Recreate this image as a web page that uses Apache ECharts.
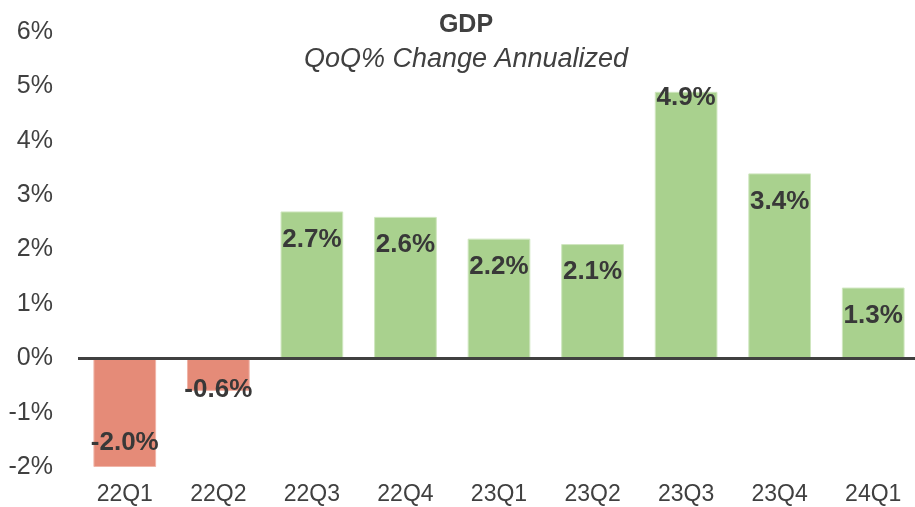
<!DOCTYPE html>
<html>
<head>
<meta charset="utf-8">
<script src="https://cdn.jsdelivr.net/npm/echarts@6/dist/echarts.min.js"></script>
<style>
  html, body { margin: 0; padding: 0; background: #fff; overflow: hidden; }
  /* slightly wider than the window: the last category runs past the right edge in the original */
  #main { width: 925px; height: 507px; }
</style>
</head>
<body>
<div id="main"></div>
<script>
const quarters = ['22Q1', '22Q2', '22Q3', '22Q4', '23Q1', '23Q2', '23Q3', '23Q4', '24Q1'];
const gdpChange = [-2.0, -0.6, 2.7, 2.6, 2.2, 2.1, 4.9, 3.4, 1.3];

const GREEN = '#a9d18e';
const RED = '#e58b78';
const TEXT = '#404040';
const FONT = '"Liberation Sans", Arial, sans-serif';

// a few labels sit differently in the original (crowded near the top / tiny bar)
const labelOffsets = { '22Q2': [0, 23], '23Q3': [0, -22] };

const chart = echarts.init(document.getElementById('main'));

const barData = gdpChange.map(function (v, i) {
    const neg = v < 0;
    return {
        value: v,
        itemStyle: {
            color: neg ? RED : GREEN,
            borderColor: neg ? '#f0b5a8' : '#cfe6bf',
            borderWidth: 1
        },
        label: {
            position: neg ? 'insideBottom' : 'insideTop',
            distance: neg ? 11 : 15,
            offset: labelOffsets[quarters[i]] || [0, 0]
        }
    };
});

const option = {
    backgroundColor: '#fff',
    animation: false,
    textStyle: { fontFamily: FONT },
    title: [
        {
            text: 'GDP',
            left: 461, top: 8, textAlign: 'center',
            textStyle: { fontFamily: FONT, fontSize: 25, fontWeight: 'bold', color: TEXT }
        },
        {
            text: 'QoQ% Change Annualized',
            left: 461, top: 41, textAlign: 'center',
            textStyle: { fontFamily: FONT, fontSize: 27, fontStyle: 'italic', fontWeight: 'normal', color: TEXT }
        }
    ],
    grid: { left: 78, right: 5, top: 32, bottom: 40, containLabel: false },
    xAxis: {
        type: 'category',
        data: quarters,
        axisLine: { show: false },
        axisTick: { show: false },
        axisLabel: { color: TEXT, fontSize: 23, fontFamily: FONT, margin: 16 }
    },
    yAxis: {
        type: 'value',
        min: -2, max: 6, interval: 1,
        axisLine: { show: false },
        axisTick: { show: false },
        splitLine: { show: false },
        axisLabel: {
            color: TEXT, fontSize: 25, fontFamily: FONT, margin: 25,
            formatter: function (v) { return v + '%'; }
        }
    },
    series: [{
        type: 'bar',
        data: barData,
        barWidth: '67%',
        label: {
            show: true,
            color: '#383838',
            fontSize: 26,
            fontWeight: 'bold',
            fontFamily: FONT,
            formatter: function (p) { return p.value.toFixed(1) + '%'; }
        },
        markLine: {
            silent: true,
            symbol: 'none',
            label: { show: false },
            lineStyle: { color: TEXT, width: 3, type: 'solid' },
            data: [{ yAxis: 0 }]
        }
    }]
};

chart.setOption(option);
</script>
</body>
</html>
